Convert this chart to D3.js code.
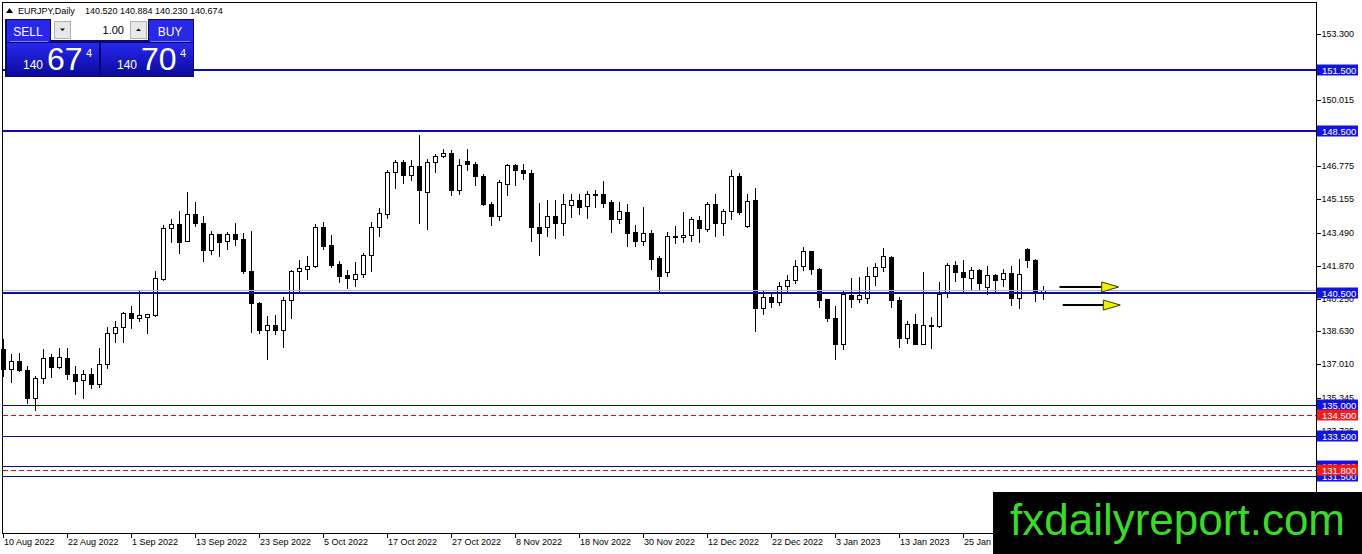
<!DOCTYPE html>
<html>
<head>
<meta charset="utf-8">
<script src="https://cdn.jsdelivr.net/npm/d3@7"></script>
<style>
  html, body { margin: 0; padding: 0; background: #fff; }
  svg { display: block; }
  text { font-family: "Liberation Sans", Arial, sans-serif; }
</style>
</head>
<body>
<svg id="chart" width="1362" height="554"></svg>
<script>
// EURJPY daily candles, 10 Aug 2022 - 8 Feb 2023
const dates = [
  "2022-08-10","2022-08-11","2022-08-12","2022-08-15","2022-08-16","2022-08-17","2022-08-18","2022-08-19",
  "2022-08-22","2022-08-23","2022-08-24","2022-08-25","2022-08-26","2022-08-29","2022-08-30","2022-08-31",
  "2022-09-01","2022-09-02","2022-09-05","2022-09-06","2022-09-07","2022-09-08","2022-09-09","2022-09-12",
  "2022-09-13","2022-09-14","2022-09-15","2022-09-16","2022-09-19","2022-09-20","2022-09-21","2022-09-22",
  "2022-09-23","2022-09-26","2022-09-27","2022-09-28","2022-09-29","2022-09-30","2022-10-03","2022-10-04",
  "2022-10-05","2022-10-06","2022-10-07","2022-10-10","2022-10-11","2022-10-12","2022-10-13","2022-10-14",
  "2022-10-17","2022-10-18","2022-10-19","2022-10-20","2022-10-21","2022-10-24","2022-10-25","2022-10-26",
  "2022-10-27","2022-10-28","2022-10-31","2022-11-01","2022-11-02","2022-11-03","2022-11-04","2022-11-07",
  "2022-11-08","2022-11-09","2022-11-10","2022-11-11","2022-11-14","2022-11-15","2022-11-16","2022-11-17",
  "2022-11-18","2022-11-21","2022-11-22","2022-11-23","2022-11-24","2022-11-25","2022-11-28","2022-11-29",
  "2022-11-30","2022-12-01","2022-12-02","2022-12-05","2022-12-06","2022-12-07","2022-12-08","2022-12-09",
  "2022-12-12","2022-12-13","2022-12-14","2022-12-15","2022-12-16","2022-12-19","2022-12-20","2022-12-21",
  "2022-12-22","2022-12-23","2022-12-26","2022-12-27","2022-12-28","2022-12-29","2022-12-30","2023-01-02",
  "2023-01-03","2023-01-04","2023-01-05","2023-01-06","2023-01-09","2023-01-10","2023-01-11","2023-01-12",
  "2023-01-13","2023-01-16","2023-01-17","2023-01-18","2023-01-19","2023-01-20","2023-01-23","2023-01-24",
  "2023-01-25","2023-01-26","2023-01-27","2023-01-30","2023-01-31","2023-02-01","2023-02-02","2023-02-03",
  "2023-02-06","2023-02-07","2023-02-08"
];

const opens = [
  137.75,136.76,137.17,136.71,135.33,136.35,137.37,136.88,137.31,136.51,136.22,136.51,136.02,137.01,138.53,138.86,
  139.56,139.28,139.35,139.45,141.23,143.73,143.93,143.08,144.43,143.98,142.65,143.41,143.11,143.41,143.19,141.62,
  140.03,138.69,138.94,138.72,140.17,141.59,141.71,141.84,143.77,142.89,141.96,141.43,141.21,141.46,142.40,143.77,
  144.43,146.50,146.98,146.36,146.80,145.48,146.98,147.28,147.44,145.58,147.05,146.90,146.27,144.92,144.34,145.91,
  146.82,146.60,146.45,143.80,143.77,144.34,143.97,144.87,145.12,144.81,145.40,145.38,145.00,144.16,144.54,143.55,
  143.11,143.50,142.25,141.54,143.34,143.27,143.40,144.13,143.67,144.92,143.97,144.56,146.27,143.83,145.09,139.78,
  140.34,140.06,140.87,141.16,141.86,142.58,141.71,140.22,139.28,138.03,140.44,140.22,140.27,141.38,141.79,142.32,
  140.17,138.30,138.99,138.03,138.93,138.90,140.50,141.90,141.58,141.26,141.66,140.83,141.41,141.20,141.51,140.27,
  142.70,142.15,140.520
];
const highs = [
  138.25,137.50,137.59,136.93,136.43,137.75,137.50,137.80,137.80,136.93,136.71,136.84,137.80,138.86,139.12,139.61,
  139.88,140.64,139.48,141.62,143.90,144.18,144.59,145.50,145.00,144.34,143.60,143.41,143.52,143.97,143.47,143.60,
  140.06,139.40,139.45,140.31,141.66,142.15,142.37,143.93,144.02,143.36,142.12,141.66,142.04,142.48,144.02,144.72,
  146.57,147.10,147.10,147.10,148.30,147.15,147.39,147.64,147.56,147.15,147.64,146.98,146.41,145.00,146.08,146.90,
  146.90,146.90,146.60,144.95,145.12,145.12,145.38,145.42,145.42,145.55,145.61,146.04,145.12,145.00,144.92,143.90,
  144.76,143.64,142.37,143.52,143.85,144.51,144.26,144.34,145.00,145.42,144.67,146.60,146.45,145.38,145.71,140.60,
  140.50,141.05,141.43,142.15,142.81,142.60,141.76,140.22,139.89,140.64,141.26,141.33,141.82,141.99,142.75,142.37,
  140.31,139.15,139.48,141.54,139.32,141.05,141.99,142.09,142.15,141.79,141.71,141.87,141.46,141.71,141.87,142.20,
  142.72,142.20,140.884
];
const lows = [
  136.43,136.15,136.68,135.11,134.78,136.10,136.38,136.81,136.27,135.56,135.36,135.86,135.89,136.84,138.13,138.13,
  138.79,139.12,138.53,139.40,141.16,143.03,142.48,143.08,143.85,142.12,142.45,142.37,142.68,142.91,141.49,138.58,
  138.53,137.26,138.49,137.87,139.28,140.64,141.21,141.82,142.70,141.79,141.05,140.77,140.85,141.30,141.63,143.31,
  144.23,145.71,145.94,146.11,143.97,143.67,146.49,147.23,145.33,145.42,146.60,145.83,144.84,143.90,144.13,145.33,
  145.83,146.16,143.08,142.42,143.31,143.24,143.40,144.29,144.43,144.23,144.76,144.76,143.52,143.97,142.86,142.86,
  142.91,141.71,140.60,141.38,142.98,143.03,143.07,143.03,143.57,143.35,143.36,144.18,144.43,143.77,138.66,139.51,
  139.81,139.94,140.64,141.00,141.66,141.46,139.84,139.12,137.26,137.75,139.81,140.06,140.01,140.93,141.62,139.84,
  137.87,138.08,138.01,138.01,137.80,138.87,140.31,141.10,140.60,140.67,140.67,140.47,140.60,140.88,139.94,139.78,
  141.82,140.14,140.230
];
const closes = [
  136.76,137.17,136.71,135.33,136.35,137.34,136.88,137.37,136.55,136.19,136.51,136.02,137.01,138.53,138.86,139.56,
  139.28,139.45,139.48,141.26,143.73,143.93,143.03,144.43,143.97,142.65,143.41,143.03,143.41,143.19,141.59,140.01,
  138.69,138.94,138.72,140.17,141.59,141.76,141.87,143.77,142.86,141.92,141.38,141.25,141.46,142.40,143.77,144.46,
  146.50,146.98,146.36,146.80,145.61,146.98,147.30,147.44,145.58,146.85,146.90,146.27,144.92,144.34,145.99,146.82,
  146.60,146.44,143.77,143.47,144.34,143.97,144.89,145.12,144.76,145.42,145.36,144.95,144.16,144.56,143.47,143.11,
  143.50,142.22,141.38,143.34,143.27,143.40,144.15,143.73,144.92,143.97,144.56,146.27,144.54,145.05,139.78,140.34,
  140.06,140.87,141.16,141.86,142.58,141.71,140.17,139.27,138.03,140.47,140.22,140.44,141.38,141.82,142.37,140.17,
  138.33,138.99,138.03,138.95,138.95,140.47,141.90,141.54,141.30,141.66,141.00,141.41,141.18,141.51,140.27,141.46,
  142.15,140.50,140.674
];

// date labels on the time axis
const tickDates = [
  "2022-08-10","2022-08-22","2022-09-01","2022-09-13","2022-09-23","2022-10-05","2022-10-17","2022-10-27",
  "2022-11-08","2022-11-18","2022-11-30","2022-12-12","2022-12-22","2023-01-03","2023-01-13","2023-01-25"
];
// price labels on the right axis
const priceTicks = [153.300,151.635,150.015,148.395,146.775,145.155,143.490,141.870,140.250,138.630,137.010,135.345,133.725,132.060,130.440];

// horizontal levels drawn on the chart
const levelPrices = [151.5, 148.5, 140.5, 135.0, 133.5, 132.0, 131.5, 134.5, 131.8];
const levelKinds  = ["major","major","major","minor","minor","minor","minor","dash","dash"];

// symbol / quote panel
const symbolName = "EURJPY,Daily";
const lastQuote = [140.520, 140.884, 140.230, 140.674];
const bidPrice = 140.674;
const sellQuote = ["140", "67", "4"];
const buyQuote = ["140", "70", "4"];
const lotSize = "1.00";

// arrows drawn past the last bar (bar index, price)
const arrowStart = [132, 132.4];
const arrowEnd = [139.4, 139.6];
const arrowPrice = [140.82, 139.93];

const svg = d3.select("#chart");
const W = 1362, H = 554;
const frameLeft = 2.5, frameRight = 1316.5, frameTop = 2.5, frameBottom = 533.5;

const x = d3.scaleLinear().domain([0, dates.length - 1]).range([3.5, 1043.5]);
const y = d3.scaleLinear().domain([128.696, 154.866]).range([533, 2]);
const py = v => Math.round(y(v));

svg.append("rect").attr("width", W).attr("height", H).attr("fill", "#fff");

// candles
const candles = dates.map((d, i) => ({ d, i, o: opens[i], h: highs[i], l: lows[i], c: closes[i] }));
const cg = svg.append("g").attr("shape-rendering", "crispEdges");

cg.selectAll("line.wick").data(candles).join("line")
    .attr("class", "wick")
    .attr("x1", d => x(d.i)).attr("x2", d => x(d.i))
    .attr("y1", d => py(d.h)).attr("y2", d => py(d.l) + 1)
    .attr("stroke", "#000");

cg.selectAll("rect.body").data(candles).join("rect")
    .attr("class", "body")
    .attr("x", d => x(d.i) - 2)
    .attr("y", d => py(Math.max(d.o, d.c)) + 0.5)
    .attr("width", 4)
    .attr("height", d => Math.max(1, py(Math.min(d.o, d.c)) - py(Math.max(d.o, d.c))))
    .attr("fill", d => d.c >= d.o ? "#fff" : "#000")
    .attr("stroke", "#000");

// bid line
svg.append("line")
    .attr("x1", frameLeft).attr("x2", frameRight)
    .attr("y1", py(bidPrice) + 0.5).attr("y2", py(bidPrice) + 0.5)
    .attr("stroke", "#b4b4cc").attr("shape-rendering", "crispEdges");

// levels
const levelStyle = {
    major: { stroke: "#0b0bb0", width: 2, dash: null, box: "#1414e0" },
    minor: { stroke: "#0b0b9c", width: 1, dash: null, box: "#1414e0" },
    dash:  { stroke: "#ff0000", width: 1, dash: "5,3", box: "#f21c1c" }
};
const levels = levelPrices.map((p, i) => ({ p, kind: levelKinds[i] }));

svg.append("g").attr("shape-rendering", "crispEdges")
  .selectAll("line").data(levels).join("line")
    .attr("x1", frameLeft).attr("x2", frameRight)
    .attr("y1", d => levelStyle[d.kind].width === 1 ? py(d.p) + 0.5 : py(d.p))
    .attr("y2", d => levelStyle[d.kind].width === 1 ? py(d.p) + 0.5 : py(d.p))
    .attr("stroke", d => levelStyle[d.kind].stroke)
    .attr("stroke-width", d => levelStyle[d.kind].width)
    .attr("stroke-dasharray", d => levelStyle[d.kind].dash);

// arrows
const arrows = arrowStart.map((s, i) => ({ s, e: arrowEnd[i], p: arrowPrice[i] }));
const ag = svg.append("g");
ag.selectAll("line").data(arrows).join("line")
    .attr("x1", d => x(d.s)).attr("x2", d => x(d.e) - 14)
    .attr("y1", d => y(d.p)).attr("y2", d => y(d.p))
    .attr("stroke", "#000").attr("stroke-width", 2);
ag.selectAll("path").data(arrows).join("path")
    .attr("d", d => {
        const tx = x(d.e), ty = y(d.p);
        return `M${tx - 17},${ty - 5}L${tx},${ty}L${tx - 17},${ty + 5}Z`;
    })
    .attr("fill", "#f0f000").attr("stroke", "#3a3a00").attr("stroke-width", 1);

// frame
svg.append("rect")
    .attr("x", frameLeft).attr("y", frameTop)
    .attr("width", frameRight - frameLeft).attr("height", frameBottom - frameTop)
    .attr("fill", "none").attr("stroke", "#000").attr("shape-rendering", "crispEdges");

// price axis
const fmt3 = d3.format(".3f");
const yAxis = svg.append("g").attr("shape-rendering", "crispEdges");
yAxis.selectAll("line").data(priceTicks).join("line")
    .attr("x1", frameRight).attr("x2", frameRight + 4)
    .attr("y1", d => py(d) + 0.5).attr("y2", d => py(d) + 0.5)
    .attr("stroke", "#000");
yAxis.selectAll("text").data(priceTicks).join("text")
    .attr("x", frameRight + 5).attr("y", d => py(d) + 2.5)
    .attr("font-size", 9).attr("fill", "#000")
    .text(d => fmt3(d));

// level labels on the price axis
const lg = svg.append("g");
const lab = lg.selectAll("g").data(levels).join("g")
    .attr("transform", d => `translate(${frameRight + 0.5},${py(d.p)})`);
lab.append("rect")
    .attr("x", 0).attr("y", -5.5).attr("width", 41).attr("height", 11)
    .attr("fill", d => levelStyle[d.kind].box);
lab.append("text")
    .attr("x", 5).attr("y", 4)
    .attr("font-size", 9.5).attr("fill", "#fff")
    .text(d => fmt3(d.p));

// time axis
const parse = d3.timeParse("%Y-%m-%d");
const fmtDate = d3.timeFormat("%-d %b %Y");
const xAxis = svg.append("g").attr("shape-rendering", "crispEdges");
xAxis.selectAll("line").data(tickDates).join("line")
    .attr("x1", d => x(dates.indexOf(d))).attr("x2", d => x(dates.indexOf(d)))
    .attr("y1", frameBottom).attr("y2", frameBottom + 4)
    .attr("stroke", "#000");
xAxis.selectAll("text").data(tickDates).join("text")
    .attr("x", d => x(dates.indexOf(d)) + 0.5).attr("y", 545)
    .attr("font-size", 9).attr("fill", "#000")
    .text(d => fmtDate(parse(d)));

// header
const hg = svg.append("g");
hg.append("path").attr("d", "M6,13L9.5,8L13,13Z").attr("fill", "#000");
hg.append("text").attr("x", 18).attr("y", 14).attr("font-size", 9).attr("fill", "#000")
    .text(symbolName);
hg.append("text").attr("x", 85).attr("y", 14).attr("font-size", 9).attr("fill", "#000")
    .attr("xml:space", "preserve")
    .text(lastQuote.map(fmt3).join(" "));

// trade panel
const defs = svg.append("defs");
const grad = defs.append("linearGradient").attr("id", "quoteGrad")
    .attr("x1", 0).attr("y1", 0).attr("x2", 0).attr("y2", 1);
grad.append("stop").attr("offset", "0%").attr("stop-color", "#2828ee");
grad.append("stop").attr("offset", "100%").attr("stop-color", "#0a0a9c");

const tp = svg.append("g");
tp.append("rect").attr("x", 5).attr("y", 19).attr("width", 189).attr("height", 58).attr("fill", "#08086e");
tp.append("rect").attr("x", 7).attr("y", 20).attr("width", 43).attr("height", 22).attr("fill", "#2828e6");
tp.append("rect").attr("x", 149).attr("y", 20).attr("width", 44).attr("height", 22).attr("fill", "#2828e6");
tp.append("line").attr("x1", 10).attr("x2", 48).attr("y1", 41.5).attr("y2", 41.5).attr("stroke", "#8080f0");
tp.append("line").attr("x1", 151).attr("x2", 190).attr("y1", 41.5).attr("y2", 41.5).attr("stroke", "#8080f0");
tp.append("text").attr("x", 28).attr("y", 35.5).attr("text-anchor", "middle")
    .attr("font-size", 12).attr("fill", "#fff").text("SELL");
tp.append("text").attr("x", 170).attr("y", 35.5).attr("text-anchor", "middle")
    .attr("font-size", 12).attr("fill", "#fff").text("BUY");

// lot field
tp.append("rect").attr("x", 51).attr("y", 19).attr("width", 97).attr("height", 21).attr("fill", "#fff");
tp.append("rect").attr("x", 54.5).attr("y", 21.5).attr("width", 16).attr("height", 17)
    .attr("fill", "#e8e8e8").attr("stroke", "#b0b0b0");
tp.append("rect").attr("x", 130.5).attr("y", 21.5).attr("width", 16).attr("height", 17)
    .attr("fill", "#e8e8e8").attr("stroke", "#b0b0b0");
tp.append("path").attr("d", "M60,28.5L65,28.5L62.5,31Z").attr("fill", "#000");
tp.append("path").attr("d", "M136,31L141,31L138.5,28.5Z").attr("fill", "#000");
tp.append("text").attr("x", 124).attr("y", 34).attr("text-anchor", "end")
    .attr("font-size", 11).attr("fill", "#000").text(lotSize);

// quote boxes
const quoteBoxes = [{ x0: 7, q: sellQuote }, { x0: 101, q: buyQuote }];
const qb = tp.selectAll("g.quote").data(quoteBoxes).join("g")
    .attr("class", "quote")
    .attr("transform", d => `translate(${d.x0},43)`);
qb.append("rect").attr("width", 92).attr("height", 33).attr("fill", "url(#quoteGrad)");
qb.append("text").attr("x", 16).attr("y", 25.5).attr("font-size", 12).attr("fill", "#fff").text(d => d.q[0]);
qb.append("text").attr("x", 40).attr("y", 27).attr("font-size", 32).attr("fill", "#fff").text(d => d.q[1]);
qb.append("text").attr("x", 79).attr("y", 14).attr("font-size", 11).attr("fill", "#fff").text(d => d.q[2]);

// watermark
const wm = svg.append("g");
wm.append("rect").attr("x", 993).attr("y", 492).attr("width", W - 993).attr("height", H - 492).attr("fill", "#000");
wm.append("text").attr("x", 1010).attr("y", 535).attr("font-size", 44).attr("fill", "#3ad92a")
    .text("fxdailyreport.com");
</script>
</body>
</html>
